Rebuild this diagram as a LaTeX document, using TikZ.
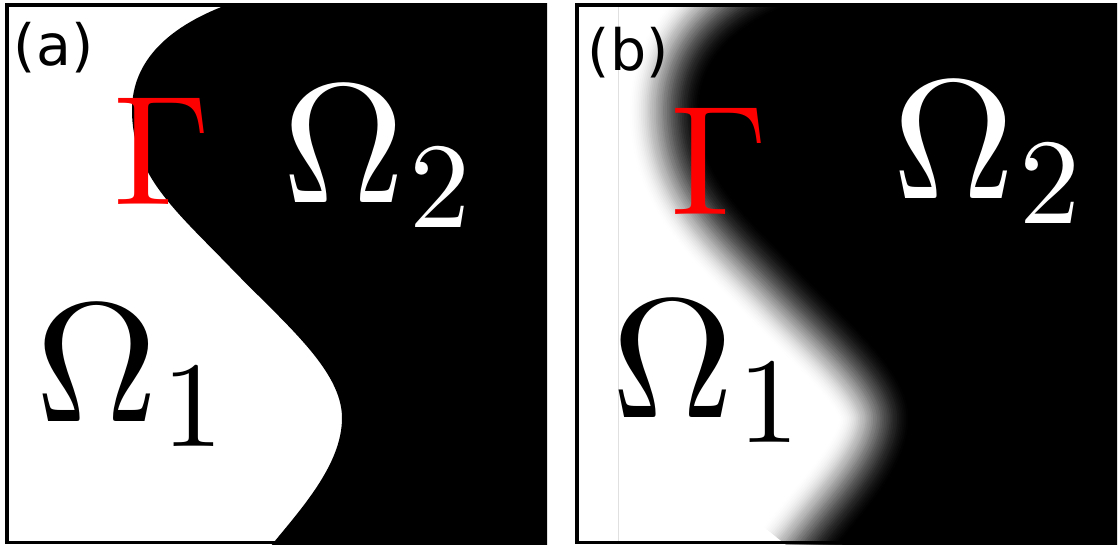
\documentclass[tikz,border=0pt]{standalone}
\usepackage[no-math]{fontspec}
\newfontfamily\labfont{DejaVu Sans}
\font\cmO=cmr10 at 85pt
\font\cmS=cmr10 at 61pt
\font\cmG=cmr10 at 78pt
\newcommand\OmegaSub[1]{\cmO\char10\kern2pt\lower12.75pt\hbox{\cmS #1}}
\newcommand\bndpath{(260,-7) -- (232,3) .. controls (170,25) and (132,60) .. (132,110) .. controls (132,175) and (175,210) .. (230,267) .. controls (285,324) and (342,370) .. (342,418) .. controls (342,465) and (300,510) .. (270,547) -- (250,572)}
\tikzset{
  lab/.style={font=\labfont\fontsize{28.5}{30}\selectfont, inner sep=0pt, anchor=base west},
  omg/.style={inner sep=0pt, anchor=base west},
  gam/.style={font=\cmG, inner sep=0pt, anchor=base, text=red},
  frame/.style={draw=black, line width=1.75pt}
}
\begin{document}
\begin{tikzpicture}[x=0.5pt,y=-0.5pt]
\useasboundingbox (0,0) rectangle (1120,547);
% ---------- panel (a)
\begin{scope}
  \clip (5,3) rectangle (547,544);
  \fill[white] (5,3) rectangle (547,544);
  \fill[black] \bndpath -- (560,572) -- (560,-7) -- cycle;
\end{scope}
\draw[frame] (6.75,4.75) rectangle (545.25,542.25);
\node[lab] (la) at (13.5,65.5) {(a)};
\node[gam] (ga) at (162,204) {\char0};
\node[omg, text=white] (o2a) at (282.5,202) {\OmegaSub{2}};
\node[omg, text=black] (o1a) at (35.5,421) {\OmegaSub{1}};
% ---------- panel (b)
\begin{scope}[shift={(570,0)}]
  \clip (5,3) rectangle (547,544);
  \fill[white] (5,3) rectangle (547,544);
  \draw[black!12, line width=0.5pt] (48,3) -- (48,544);
  \fill[black] \bndpath -- (560,572) -- (560,-7) -- cycle;
  \foreach \k in {1,...,40}{
    \pgfmathsetmacro\ua{min((\k-0.5)/40,1)}
    \pgfmathsetmacro\ub{min((\k+0.5)/40,1)}
    \pgfmathsetmacro\Ta{0.05+0.95*(3*\ua*\ua-2*\ua*\ua*\ua)}
    \pgfmathsetmacro\Tb{0.05+0.95*(3*\ub*\ub-2*\ub*\ub*\ub)}
    \pgfmathsetmacro\al{1-\Ta/\Tb}
    \pgfmathsetmacro\lw{74*\k/40}
    \draw[black, line width=\lw pt, draw opacity=\al, line join=round] \bndpath;
  }
\end{scope}
\draw[frame] (576.75,4.75) rectangle (1115.25,542.25);
\node[lab] (lb) at (587.5,70.5) {(b)};
\node[gam] (gb) at (719.5,214) {\char0};
\node[omg, text=white] (o2b) at (892.5,198) {\OmegaSub{2}};
\node[omg, text=black] (o1b) at (611.5,417) {\OmegaSub{1}};
\end{tikzpicture}
\end{document}
